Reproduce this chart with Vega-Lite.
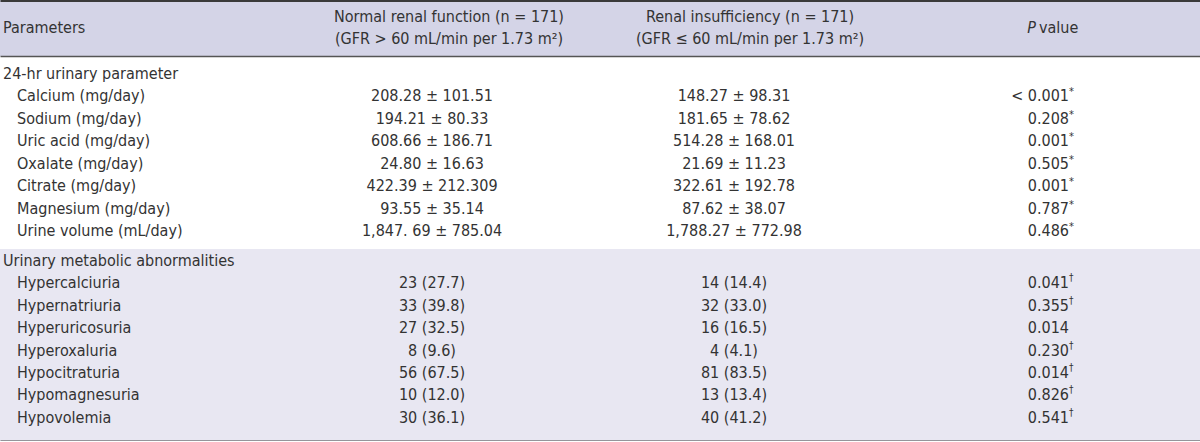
{
  "$schema": "https://vega.github.io/schema/vega-lite/v6.json",
  "padding": 0,
  "autosize": {"type": "pad"},
  "spacing": 0,
  "bounds": "flush",
  "background": "#ffffff",
  "config": {
    "view": {"stroke": null},
    "text": {"font": "DejaVu Sans Condensed, sans-serif", "fontSize": 16, "color": "#333333", "baseline": "middle", "lineHeight": 22, "lineBreak": "\n"},
    "axisX": {"ticks": false, "labels": false, "grid": false, "title": null, "domain": true}
  },
  "resolve": {"scale": {"x": "independent", "y": "independent"}, "axis": {"x": "independent"}},
  "datasets": {
    "rows": [
      {"sec": "A", "level": "head", "label": "24-hr urinary parameter", "normal": "", "renal": "", "p": "", "mark": ""},
      {"sec": "A", "level": "item", "label": "Calcium (mg/day)", "normal": "208.28 ± 101.51", "renal": "148.27 ± 98.31", "p": "< 0.001", "mark": "*"},
      {"sec": "A", "level": "item", "label": "Sodium (mg/day)", "normal": "194.21 ± 80.33", "renal": "181.65 ± 78.62", "p": "0.208", "mark": "*"},
      {"sec": "A", "level": "item", "label": "Uric acid (mg/day)", "normal": "608.66 ± 186.71", "renal": "514.28 ± 168.01", "p": "0.001", "mark": "*"},
      {"sec": "A", "level": "item", "label": "Oxalate (mg/day)", "normal": "24.80 ± 16.63", "renal": "21.69 ± 11.23", "p": "0.505", "mark": "*"},
      {"sec": "A", "level": "item", "label": "Citrate (mg/day)", "normal": "422.39 ± 212.309", "renal": "322.61 ± 192.78", "p": "0.001", "mark": "*"},
      {"sec": "A", "level": "item", "label": "Magnesium (mg/day)", "normal": "93.55 ± 35.14", "renal": "87.62 ± 38.07", "p": "0.787", "mark": "*"},
      {"sec": "A", "level": "item", "label": "Urine volume (mL/day)", "normal": "1,847. 69 ± 785.04", "renal": "1,788.27 ± 772.98", "p": "0.486", "mark": "*"},
      {"sec": "B", "level": "head", "label": "Urinary metabolic abnormalities", "normal": "", "renal": "", "p": "", "mark": ""},
      {"sec": "B", "level": "item", "label": "Hypercalciuria", "normal": "23 (27.7)", "renal": "14 (14.4)", "p": "0.041", "mark": "†"},
      {"sec": "B", "level": "item", "label": "Hypernatriuria", "normal": "33 (39.8)", "renal": "32 (33.0)", "p": "0.355", "mark": "†"},
      {"sec": "B", "level": "item", "label": "Hyperuricosuria", "normal": "27 (32.5)", "renal": "16 (16.5)", "p": "0.014", "mark": ""},
      {"sec": "B", "level": "item", "label": "Hyperoxaluria", "normal": "8 (9.6)", "renal": "4 (4.1)", "p": "0.230", "mark": "†"},
      {"sec": "B", "level": "item", "label": "Hypocitraturia", "normal": "56 (67.5)", "renal": "81 (83.5)", "p": "0.014", "mark": "†"},
      {"sec": "B", "level": "item", "label": "Hypomagnesuria", "normal": "10 (12.0)", "renal": "13 (13.4)", "p": "0.826", "mark": "†"},
      {"sec": "B", "level": "item", "label": "Hypovolemia", "normal": "30 (36.1)", "renal": "40 (41.2)", "p": "0.541", "mark": "†"}
    ],
    "header": [
      {"param": "Parameters", "normal": "Normal renal function (n = 171)\n(GFR > 60 mL/min per 1.73 m²)", "renal": "Renal insufficiency (n = 171)\n(GFR ≤ 60 mL/min per 1.73 m²)", "pItalic": "P", "pRest": "value"}
    ]
  },
  "vconcat": [
    {
      "width": 1200,
      "height": 56,
      "view": {"fill": "#d4d4e7", "stroke": null},
      "data": {"name": "header"},
      "layer": [
        {"mark": {"type": "text", "align": "left"},
         "encoding": {"x": {"datum": 3, "type": "quantitative", "scale": {"domain": [0, 1200], "nice": false, "zero": false}, "axis": {"orient": "top", "domainColor": "#3a3a3a", "domainWidth": 3}},
                      "text": {"field": "param"}}},
        {"mark": {"type": "text", "align": "center", "dy": -11},
         "encoding": {"x": {"datum": 449, "type": "quantitative", "scale": {"domain": [0, 1200], "nice": false, "zero": false}, "axis": {"orient": "top", "domainColor": "#3a3a3a", "domainWidth": 3}},
                      "text": {"field": "normal"}}},
        {"mark": {"type": "text", "align": "center", "dy": -11},
         "encoding": {"x": {"datum": 750, "type": "quantitative", "scale": {"domain": [0, 1200], "nice": false, "zero": false}, "axis": {"orient": "top", "domainColor": "#3a3a3a", "domainWidth": 3}},
                      "text": {"field": "renal"}}},
        {"mark": {"type": "text", "align": "right", "fontStyle": "italic"},
         "encoding": {"x": {"datum": 1036, "type": "quantitative", "scale": {"domain": [0, 1200], "nice": false, "zero": false}, "axis": {"orient": "top", "domainColor": "#3a3a3a", "domainWidth": 3}},
                      "text": {"field": "pItalic"}}},
        {"mark": {"type": "text", "align": "left"},
         "encoding": {"x": {"datum": 1039, "type": "quantitative", "scale": {"domain": [0, 1200], "nice": false, "zero": false}, "axis": {"orient": "top", "domainColor": "#3a3a3a", "domainWidth": 3}},
                      "text": {"field": "pRest"}}}
      ]
    },
    {
      "width": 1200,
      "height": 193,
      "view": {"fill": "#ffffff", "stroke": null},
      "data": {"name": "rows"},
      "transform": [{"filter": "datum.sec === 'A'"}],
      "layer": [
        {"mark": {"type": "text", "align": "center"},
         "encoding": {"x": {"datum": 432, "type": "quantitative", "scale": {"domain": [0, 1200], "nice": false, "zero": false}, "axis": {"orient": "top", "domainColor": "#555555", "domainWidth": 1.5}},
                      "y": {"field": "label", "type": "nominal", "sort": null, "scale": {"type": "point", "padding": 0.8}, "axis": null},
                      "text": {"field": "normal"}}},
        {"mark": {"type": "text", "align": "center"},
         "encoding": {"x": {"datum": 734, "type": "quantitative", "scale": {"domain": [0, 1200], "nice": false, "zero": false}, "axis": {"orient": "top", "domainColor": "#555555", "domainWidth": 1.5}},
                      "y": {"field": "label", "type": "nominal", "sort": null, "scale": {"type": "point", "padding": 0.8}, "axis": null},
                      "text": {"field": "renal"}}},
        {"mark": {"type": "text", "align": "right"},
         "encoding": {"x": {"datum": 1069, "type": "quantitative", "scale": {"domain": [0, 1200], "nice": false, "zero": false}, "axis": {"orient": "top", "domainColor": "#555555", "domainWidth": 1.5}},
                      "y": {"field": "label", "type": "nominal", "sort": null, "scale": {"type": "point", "padding": 0.8}, "axis": null},
                      "text": {"field": "p"}}},
        {"mark": {"type": "text", "align": "left", "fontSize": 11, "dy": -4},
         "encoding": {"x": {"datum": 1069, "type": "quantitative", "scale": {"domain": [0, 1200], "nice": false, "zero": false}, "axis": {"orient": "top", "domainColor": "#555555", "domainWidth": 1.5}},
                      "y": {"field": "label", "type": "nominal", "sort": null, "scale": {"type": "point", "padding": 0.8}, "axis": null},
                      "text": {"field": "mark"}}},
        {"transform": [{"filter": "datum.level === 'head'"}],
         "mark": {"type": "text", "align": "left"},
         "encoding": {"x": {"datum": 3, "type": "quantitative", "scale": {"domain": [0, 1200], "nice": false, "zero": false}, "axis": {"orient": "top", "domainColor": "#555555", "domainWidth": 1.5}},
                      "y": {"field": "label", "type": "nominal", "sort": null, "scale": {"type": "point", "padding": 0.8}, "axis": null},
                      "text": {"field": "label"}}},
        {"transform": [{"filter": "datum.level === 'item'"}],
         "mark": {"type": "text", "align": "left"},
         "encoding": {"x": {"datum": 17, "type": "quantitative", "scale": {"domain": [0, 1200], "nice": false, "zero": false}, "axis": {"orient": "top", "domainColor": "#555555", "domainWidth": 1.5}},
                      "y": {"field": "label", "type": "nominal", "sort": null, "scale": {"type": "point", "padding": 0.8}, "axis": null},
                      "text": {"field": "label"}}}
      ]
    },
    {
      "width": 1200,
      "height": 192,
      "view": {"fill": "#e8e7f2", "stroke": null},
      "data": {"name": "rows"},
      "transform": [{"filter": "datum.sec === 'B'"}],
      "layer": [
        {"mark": {"type": "text", "align": "center"},
         "encoding": {"x": {"datum": 432, "type": "quantitative", "scale": {"domain": [0, 1200], "nice": false, "zero": false}, "axis": {"orient": "bottom", "domainColor": "#444444", "domainWidth": 2}},
                      "y": {"field": "label", "type": "nominal", "sort": null, "scale": {"type": "point", "padding": 0.78, "align": 0.34}, "axis": null},
                      "text": {"field": "normal"}}},
        {"mark": {"type": "text", "align": "center"},
         "encoding": {"x": {"datum": 734, "type": "quantitative", "scale": {"domain": [0, 1200], "nice": false, "zero": false}, "axis": {"orient": "bottom", "domainColor": "#444444", "domainWidth": 2}},
                      "y": {"field": "label", "type": "nominal", "sort": null, "scale": {"type": "point", "padding": 0.78, "align": 0.34}, "axis": null},
                      "text": {"field": "renal"}}},
        {"mark": {"type": "text", "align": "right"},
         "encoding": {"x": {"datum": 1069, "type": "quantitative", "scale": {"domain": [0, 1200], "nice": false, "zero": false}, "axis": {"orient": "bottom", "domainColor": "#444444", "domainWidth": 2}},
                      "y": {"field": "label", "type": "nominal", "sort": null, "scale": {"type": "point", "padding": 0.78, "align": 0.34}, "axis": null},
                      "text": {"field": "p"}}},
        {"mark": {"type": "text", "align": "left", "fontSize": 10, "dy": -5},
         "encoding": {"x": {"datum": 1069, "type": "quantitative", "scale": {"domain": [0, 1200], "nice": false, "zero": false}, "axis": {"orient": "bottom", "domainColor": "#444444", "domainWidth": 2}},
                      "y": {"field": "label", "type": "nominal", "sort": null, "scale": {"type": "point", "padding": 0.78, "align": 0.34}, "axis": null},
                      "text": {"field": "mark"}}},
        {"transform": [{"filter": "datum.level === 'head'"}],
         "mark": {"type": "text", "align": "left"},
         "encoding": {"x": {"datum": 3, "type": "quantitative", "scale": {"domain": [0, 1200], "nice": false, "zero": false}, "axis": {"orient": "bottom", "domainColor": "#444444", "domainWidth": 2}},
                      "y": {"field": "label", "type": "nominal", "sort": null, "scale": {"type": "point", "padding": 0.78, "align": 0.34}, "axis": null},
                      "text": {"field": "label"}}},
        {"transform": [{"filter": "datum.level === 'item'"}],
         "mark": {"type": "text", "align": "left"},
         "encoding": {"x": {"datum": 17, "type": "quantitative", "scale": {"domain": [0, 1200], "nice": false, "zero": false}, "axis": {"orient": "bottom", "domainColor": "#444444", "domainWidth": 2}},
                      "y": {"field": "label", "type": "nominal", "sort": null, "scale": {"type": "point", "padding": 0.78, "align": 0.34}, "axis": null},
                      "text": {"field": "label"}}}
      ]
    }
  ]
}
